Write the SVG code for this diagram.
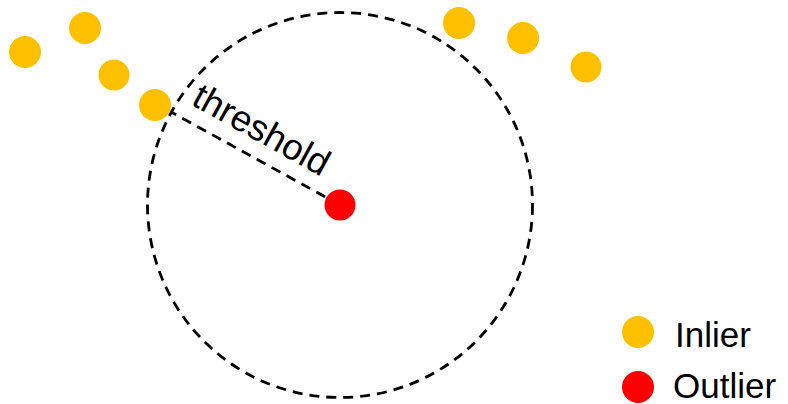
<svg xmlns="http://www.w3.org/2000/svg" width="788" height="404" viewBox="0 0 788 404">
<style>
.in{fill:#FFC000}
.out{fill:#FF0000}
.dash{fill:none;stroke:#000;stroke-width:2.8;stroke-dasharray:10 7}
text{font-family:"Liberation Sans",Arial,sans-serif;font-size:35px;fill:#000}
</style>
<rect width="788" height="404" fill="#fff"/>
<g id="connectors">
<circle id="threshold-circle" class="dash" cx="340" cy="205" r="192.5"/>
<line class="dash" x1="340" y1="205" x2="171" y2="112"/>
</g>
<g id="inliers">
<circle class="in" cx="25" cy="52" r="16"/>
<circle class="in" cx="85" cy="28" r="16"/>
<circle class="in" cx="114" cy="75" r="15.5"/>
<circle class="in" cx="155" cy="105" r="16"/>
<circle class="in" cx="459" cy="23" r="16"/>
<circle class="in" cx="523" cy="38" r="16"/>
<circle class="in" cx="586" cy="67" r="15.5"/>
</g>
<g id="outlier"><circle class="out" cx="340" cy="205" r="15.5"/></g>
<g id="threshold-label"><text transform="translate(190,104) rotate(29)" style="font-size:36.5px">threshold</text></g>
<g id="legend">
<circle class="in" cx="638" cy="332" r="16"/>
<text x="675" y="347">Inlier</text>
<circle class="out" cx="638" cy="387" r="16"/>
<text x="673" y="398">Outlier</text>
</g>
</svg>
